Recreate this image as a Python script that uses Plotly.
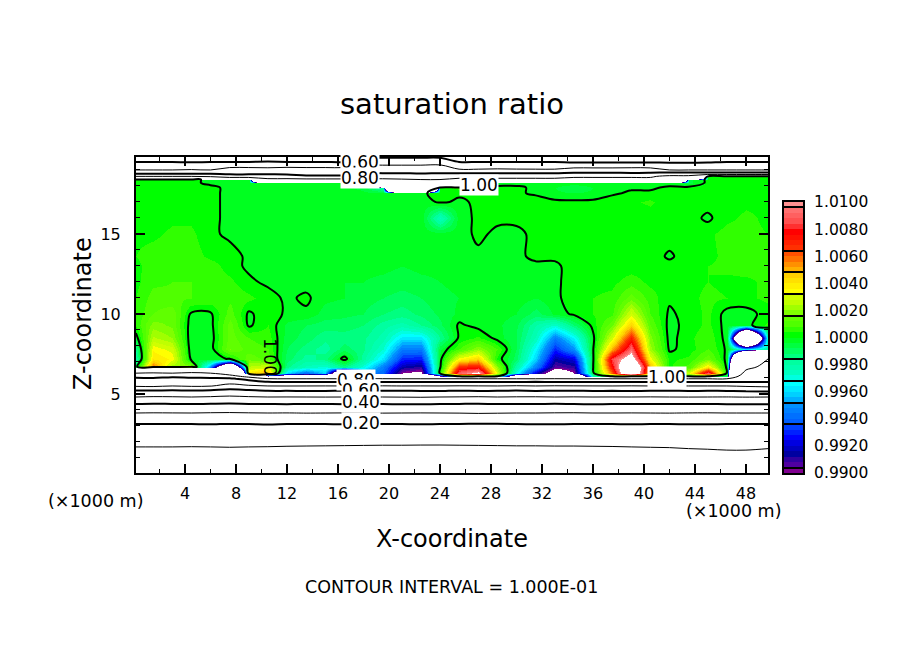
import plotly.graph_objects as go

W, H = 904, 654
MT = 30  # top and bottom margin


def py(p):
    # page pixel row to paper fraction
    return 1 - (p - MT) / (H - 2 * MT)


# km, column centres of the field
x_km = [0.15, 1.5, 3, 4.5, 6, 7.5, 9, 10.5, 12, 13.5, 15, 16.5, 18, 19.5, 21, 22.5, 24,
        25.5, 27, 28.5, 30, 31.5, 33, 34.5, 36, 37.5, 39, 40.5, 42, 43.5, 45, 46.5, 48, 49.75]
y_km = [0.06, 1.69, 3.12, 3.81, 4.37, 4.81, 5.19, 5.5, 5.75, 5.95, 6.1, 6.3, 6.7, 7.2, 7.8, 8.5, 9.3,
        10, 11, 12, 13, 13.6, 15, 16, 17, 17.55, 17.9, 18.2, 18.4, 18.6, 18.8, 19, 19.3, 19.5, 19.81]

# saturation ratio, as (ratio - 1) * 10000, bottom row first
sat_dev = [
    [-9720,-9720,-9720,-9720,-9720,-9720,-9720,-9720,-9720,-9720,-9720,-9720,-9720,-9720,-9720,-9720,-9720,-9720,-9720,-9720,-9720,-9720,-9720,-9720,-9720,-9720,-9720,-9720,-9720,-9720,-9720,-9720,-9720,-9720],
    [-9000,-9000,-9000,-9010,-9000,-8990,-9000,-9010,-9030,-9040,-9050,-9060,-9070,-9080,-9080,-9090,-9090,-9080,-9070,-9060,-9050,-9050,-9040,-9040,-9030,-9020,-9000,-8990,-8980,-8950,-8930,-8900,-8900,-8950],
    [-8000,-8000,-8010,-8000,-7990,-8010,-8000,-7980,-8000,-8010,-8000,-7990,-8000,-8010,-8000,-7990,-8000,-8010,-8030,-8020,-8000,-7990,-7990,-8000,-8000,-8000,-7990,-8000,-8000,-7990,-7990,-8000,-8000,-8000],
    [-7000,-7020,-7010,-7000,-7030,-7050,-7020,-7000,-7010,-6990,-7000,-7010,-7000,-6990,-7000,-7010,-7000,-6990,-6960,-6980,-7000,-7000,-7020,-7030,-7000,-7000,-7010,-7000,-6990,-7010,-7020,-7000,-7000,-7000],
    [-6000,-6050,-6020,-6000,-6040,-6060,-6020,-6000,-5990,-6010,-6000,-5990,-6010,-6000,-5980,-5970,-6000,-6020,-6040,-6000,-6010,-6000,-6030,-6000,-5980,-6000,-6010,-6000,-6020,-6010,-6000,-5990,-5980,-5990],
    [-5000,-5060,-5040,-5000,-5050,-5120,-5050,-5000,-5010,-5000,-4990,-5000,-5010,-5000,-4980,-4960,-5000,-5020,-5050,-5000,-5030,-5040,-5000,-5020,-5000,-5010,-5000,-5020,-5000,-4990,-5000,-5010,-4980,-5000],
    [-4100,-4100,-4150,-4100,-4150,-4350,-4200,-4020,-4010,-4000,-4000,-4020,-4000,-4030,-4040,-4000,-3980,-4050,-4000,-4020,-4060,-4000,-4040,-4050,-4000,-4010,-4000,-4020,-4030,-4000,-4010,-4000,-3950,-3900],
    [-2900,-2850,-3000,-2900,-2950,-3300,-3100,-3000,-2990,-3000,-3010,-3000,-2980,-3030,-3000,-3010,-3000,-3040,-3020,-3000,-3060,-3000,-3050,-3030,-3010,-3000,-3030,-3000,-3020,-3000,-3000,-3000,-2900,-2800],
    [-2500,-2450,-2700,-2500,-2500,-2700,-2500,-2050,-2000,-2000,-2010,-1980,-1950,-2000,-2020,-2000,-1990,-2000,-2020,-2000,-2000,-2030,-2000,-1980,-2000,-2020,-2000,-2000,-1990,-2000,-2000,-2010,-2000,-2000],
    [-2200,-2150,-2400,-2250,-2200,-2200,-1600,-1050,-1000,-1000,-1010,-1000,-1000,-1020,-1000,-1000,-1000,-1010,-1000,-1000,-1000,-1000,-1020,-1000,-1000,-1000,-1000,-1010,-1000,-1000,-1000,-1000,-1800,-1900],
    [-1700,-1650,-1800,-1700,-1650,-1400,-700,-100,-150,-150,-150,-300,-250,-200,-200,-200,-100,-1,-1,-1,-150,-200,-300,-200,-20,-1,-1,-1,-1,-1,-1,-10,-1700,-1800],
    [-1000,-1050,-1000,-1100,-1000,-500,40,50,-40,-60,-40,-200,-50,-60,-100,-105,5,90,105,30,-30,-80,-120,-100,-3,60,150,40,5,30,90,-1,-1200,-1600],
    [-5,60,20,20,-50,-200,25,30,-15,-25,-30,-15,-30,-55,-85,-90,-2,70,75,20,-20,-55,-95,-90,-1,75,150,50,3,10,40,-2,-800,-1200],
    [-20,40,35,-3,-4,1,15,10,-10,-18,-14,3,-18,-38,-70,-72,-3,35,45,3,-10,-42,-85,-78,-2,85,115,35,3,5,15,-2,-500,-1000],
    [-15,35,30,-4,-3,16,10,8,-8,-14,-18,-10,-15,-28,-55,-55,-5,8,20,8,-8,-35,-70,-50,-1,50,92,22,-1,2,8,-1,-40,-20],
    [-3,25,20,-4,-3,14,8,6,-6,-10,-15,-14,-15,-22,-38,-38,-16,1,5,-2,-8,-25,-55,-35,-2,30,72,18,-2,3,7,-2,-300,-20],
    [5,18,15,-3,-2,14,-1,4,-5,-8,-10,-10,-12,-18,-22,-16,-9,1,-2,-3,-7,-20,-28,-12,2,15,45,12,-2,2,5,-2,-2,5],
    [5,12,15,-1,-1,10,-1,3,-1,-1,-6,-7,-8,-12,-14,-11,-7,-3,-2,-2,-4,-10,-3,1,4,7,30,8,-1,2,5,-2,-2,2],
    [4,10,9,8,7,7,5,2,-1,1,-3,-4,-6,-8,-10,-8,-5,-4,-3,-2,-2,-4,-1,2,4,5,14,6,1,3,5,4,3,5],
    [3,7,8,8,7,5,1,-1,-2,-2,-3,-4,-4,-5,-6,-5,-4,-3,-3,-2,-2,-2,-1,2,3,3,6,3,3,3,4,3,3,5],
    [3,6,7,7,6,2,-1,-1,-1,-2,-2,-2,-3,-3,-4,-3,-3,-3,-2,-2,-2,-1,-1,2,2,2,2,2,2,3,4,5,6,5],
    [4,6,7,6,3,2,-1,-1,-1,-1,-2,-2,-2,-2,-3,-3,-2,-2,-1,-1,-1,1,1,1,1,1,1,3,-1,3,3,5,7,5],
    [3,3,5,5,1,-1,-1,-1,-1,-1,-1,-1,-1,-1,-2,-2,-2,-2,1,-1,-1,1,1,1,1,2,2,2,3,2,3,6,5,4],
    [2,2,3,3,1,-1,-1,-1,-1,-1,-1,-1,-1,-1,-1,-1,-25,-2,1,1,1,1,1,1,1,1,1,1,1,2,-1,3,5,3],
    [1,1,1,1,1,-1,-1,-1,-1,-1,-1,-1,-1,-1,-1,-3,1,-1,1,1,1,3,1,1,1,3,3,5,1,1,2,2,3,3],
    [2,2,2,2,1,-1,-1,-1,-1,-1,-2,-2,-3,-3,-1,-1,2,1,1,1,1,-1,-3,-4,-3,-1,1,1,1,1,1,1,2,2],
    [2,2,2,2,1,-1,-1,-1,-2,-2,-3,-3,-5,-20,-900,-900,2,5,1,1,1,-1,-4,-8,-4,-1,-1,-1,1,1,1,1,2,2],
    [1,1,1,1,-1,-1,-1,-1,-1,-2,-2,-2,-2,-500,-900,-900,-900,-800,-2,-2,-2,-2,-2,-2,-2,-2,-3,-3,-3,-5,1,1,2,2],
    [1,1,1,1,-1,-2,-3,-800,-800,-800,-800,-800,-800,-800,-900,-1000,-1000,-800,-800,-800,-800,-800,-800,-800,-800,-800,-800,-800,-800,-5,1,1,2,2],
    [-1000,-1000,-1000,-1000,-1100,-1500,-1500,-1500,-1500,-1800,-1800,-1800,-1600,-1600,-1600,-1600,-1600,-1300,-1300,-1300,-1300,-1300,-1300,-1100,-1100,-1100,-1100,-1100,-800,-800,1,1,1,1],
    [-2200,-2200,-2250,-2200,-2200,-2300,-2300,-2300,-2350,-2500,-2500,-2500,-2000,-2000,-2000,-2050,-2000,-2000,-2000,-2000,-2050,-2000,-2000,-1900,-1900,-1900,-1950,-1900,-1700,-1700,-1700,-1700,-1750,-1700],
    [-3000,-3000,-3000,-2950,-3000,-2700,-2700,-2750,-2700,-2800,-2800,-2800,-2500,-2500,-2500,-2450,-2500,-2900,-2900,-2850,-2900,-2900,-2900,-2700,-2700,-2700,-2700,-2700,-3000,-3000,-3000,-3000,-3000,-3000],
    [-3600,-3600,-3550,-3600,-3600,-3300,-3300,-3300,-3250,-3200,-3200,-3200,-3000,-3000,-3000,-3000,-2950,-3500,-3500,-3500,-3450,-3500,-3500,-3400,-3400,-3400,-3350,-3400,-3700,-3700,-3700,-3650,-3700,-3700],
    [-4000,-4000,-4000,-4050,-4000,-4000,-4000,-3950,-4000,-4000,-4000,-4000,-3500,-3500,-3500,-3500,-3500,-4000,-4000,-4000,-4000,-4000,-4000,-4100,-4100,-4100,-4100,-4100,-4100,-4100,-4050,-4000,-4000,-4000],
    [-4500,-4500,-4500,-4500,-4500,-4600,-4600,-4600,-4600,-4600,-4600,-4600,-4100,-4100,-4100,-4100,-4100,-4500,-4500,-4500,-4500,-4500,-4500,-4700,-4700,-4700,-4700,-4700,-4600,-4600,-4600,-4600,-4600,-4600],
]
assert len(sat_dev) == len(y_km) and all(len(r) == len(x_km) for r in sat_dev)

# 50 shades, 0.9900 to 1.0100, each 0.0004 wide
band_colors = ["#800090",
    "#5000a0", "#3000a0", "#0000a0", "#0000c0",
    "#0000e0", "#0000ff", "#0020ff", "#0040ff",
    "#0060ff", "#0070ff", "#0080ff", "#0090ff",
    "#00b0ff", "#00d0ff", "#00e8ff", "#00ffff",
    "#00ffe0", "#00ffc0", "#00ffb0", "#00ffa0",
    "#00ff80", "#00ff60", "#00ff40", "#00ff20",
    "#00ff00", "#30ff00", "#50ff00", "#60ff00",
    "#80ff00", "#a0ff00", "#c0ff00", "#d0ff00",
    "#ffff00", "#fff000", "#ffe000", "#ffd000",
    "#ffb000", "#ff9000", "#ff7000", "#ff5000",
    "#ff3000", "#ff2000", "#ff1000", "#ff0000",
    "#ff3030", "#ff5050", "#ff6060", "#ff7070",
    "#ff9090"]

# contour labels, written over the lines
label_text = ["0.60", "0.80", "1.00", "0.80", "0.60", "0.40", "0.20", "1.00"]
label_x = [17.7, 17.7, 27.1, 17.4, 17.8, 17.8, 17.8, 41.8]
label_y = [19.5, 18.5, 18.05, 5.85, 5.25, 4.5, 3.2, 6.06]

# page texts: text, centre in pixels, size, angle
page_text = ["saturation ratio", "X-coordinate", "Z-coordinate", "CONTOUR INTERVAL = 1.000E-01",
             "(×1000 m)", "(×1000 m)"]
page_cx = [452, 452, 83, 451, 95, 733]
page_cy = [104, 539, 314, 587, 501, 511]
page_size = [29, 24, 24, 17.5, 17.5, 17.5]
page_angle = [0, 0, -90, 0, 0, 0]

FONT = "DejaVu Sans"
Z_LO, Z_HI, STEP = 0.99, 1.01, 0.0004
z = [[1 + d * 1e-4 for d in row] for row in sat_dev]

# white above and below the colour range, hard steps between shades
zmin, zmax = 0.9896, 1.0104
span = zmax - zmin
scale = [[0, "white"], [(Z_LO - zmin) / span, "white"]]
for i, c in enumerate(band_colors):
    scale.append([(Z_LO + i * STEP - zmin) / span, c])
    scale.append([(Z_LO + (i + 1) * STEP - zmin) / span, c])
scale += [[(Z_HI - zmin) / span, "white"], [1, "white"]]

fig = go.Figure()
fig.add_trace(go.Heatmap(x=x_km, y=y_km, z=z, zmin=zmin, zmax=zmax, colorscale=scale,
                         zsmooth="best", showscale=False, hoverinfo="skip"))
fig.add_trace(go.Contour(x=x_km, y=y_km, z=z, autocontour=False,
                         contours=dict(start=0.1, end=0.9, size=0.2, coloring="none"),
                         line=dict(color="black", width=1), showscale=False, hoverinfo="skip"))
fig.add_trace(go.Contour(x=x_km, y=y_km, z=z, autocontour=False,
                         contours=dict(start=0.2, end=1.0, size=0.2, coloring="none"),
                         line=dict(color="black", width=2), showscale=False, hoverinfo="skip"))

# colour key drawn as its own small heatmap
key_y = [Z_LO + (i + 0.5) * STEP for i in range(len(band_colors))]
fig.add_trace(go.Heatmap(z=[[v] for v in key_y], y=key_y, x=[0], zmin=zmin, zmax=zmax,
                         colorscale=scale, showscale=False, xaxis="x2", yaxis="y2", hoverinfo="skip"))

fig.update_layout(
    width=W, height=H, autosize=False,
    margin=dict(l=0, r=0, t=MT, b=MT),
    paper_bgcolor="white", plot_bgcolor="white", showlegend=False,
    font=dict(family=FONT, size=16, color="black"),
    xaxis=dict(domain=[136 / W, 768 / W], range=[0.157, 49.73], tick0=0, dtick=4,
               ticks="inside", ticklen=9, tickwidth=2, tickcolor="black", ticklabelstandoff=5,
               showline=True, linewidth=2, linecolor="black", mirror="allticks",
               showgrid=False, zeroline=False,
               minor=dict(tick0=0, dtick=2, ticks="inside", ticklen=4, tickwidth=1, tickcolor="black")),
    yaxis=dict(domain=[py(473), py(157)], range=[0.06, 19.81], tick0=0, dtick=5,
               ticks="inside", ticklen=9, tickwidth=2, tickcolor="black", ticklabelstandoff=10,
               showline=True, linewidth=2, linecolor="black", mirror="allticks",
               showgrid=False, zeroline=False,
               minor=dict(tick0=0, dtick=1, ticks="inside", ticklen=4, tickwidth=1, tickcolor="black")),
    xaxis2=dict(domain=[784 / W, 803 / W], range=[-0.5, 0.5], anchor="y2", showticklabels=False,
                ticks="", showline=True, linewidth=2, linecolor="black", mirror=True,
                showgrid=False, zeroline=False),
    yaxis2=dict(domain=[py(473), py(202)], range=[Z_LO, Z_HI], anchor="x2", side="right",
                tick0=Z_LO, dtick=0.002, tickformat=".4f", ticks="", ticklabelstandoff=6,
                tickfont=dict(size=15.5),
                showline=True, linewidth=2, linecolor="black", mirror=True,
                showgrid=False, zeroline=False,
                minor=dict(tick0=1.0, dtick=0.0016, ticks="inside", ticklen=19, tickwidth=2, tickcolor="black")),
)

for t, lx, ly in zip(label_text, label_x, label_y):
    fig.add_annotation(x=lx, y=ly, text=t, showarrow=False, bgcolor="white", borderpad=0,
                       font=dict(family=FONT, size=17, color="black"))
fig.add_annotation(x=10.67, y=7.3, text="1.00", textangle=90, showarrow=False,
                   font=dict(family=FONT, size=17, color="black"))

for t, cx, cy, s, a in zip(page_text, page_cx, page_cy, page_size, page_angle):
    fig.add_annotation(x=cx / W, y=py(cy), xref="paper", yref="paper", text=t, textangle=a,
                       xanchor="center", yanchor="middle", showarrow=False,
                       font=dict(family=FONT, size=s))

fig.write_html("out.html", config=dict(displayModeBar=False),
               post_script="document.body.style.margin='0';")
